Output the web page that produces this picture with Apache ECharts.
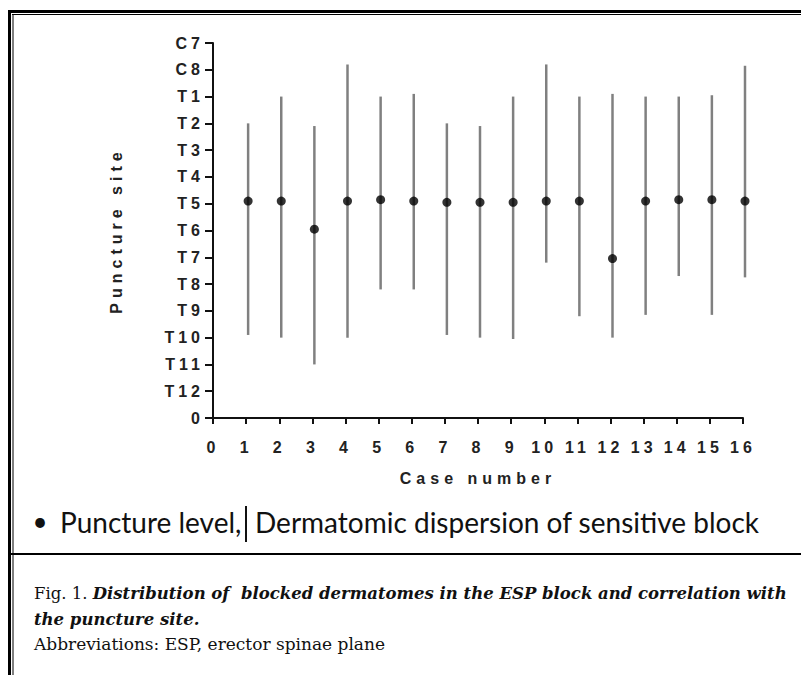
<!DOCTYPE html>
<html><head><meta charset="utf-8">
<script src="https://cdn.jsdelivr.net/npm/echarts@6/dist/echarts.min.js"></script>
<style>
html,body{margin:0;padding:0;background:#fff}
#c{width:801px;height:675px}
#c text[style*="Liberation Sans"]{letter-spacing:4px}
#c text[style*="Arial"]{letter-spacing:5px}
</style></head><body><div id="c"></div>
<script>
// ---- data ----
const caseNumbers = [1,2,3,4,5,6,7,8,9,10,11,12,13,14,15,16];
const levelLabels = ['0','T12','T11','T10','T9','T8','T7','T6','T5','T4','T3','T2','T1','C8','C7'];
const xTickLabels = ['0','1','2','3','4','5','6','7','8','9','10','11','12','13','14','15','16'];
// puncture level (0 = '0', 1 = T12 ... 8 = T5 ... 14 = C7)
const punctureLevel = [8.1,8.1,7.05,8.1,8.15,8.1,8.05,8.05,8.05,8.1,8.1,5.95,8.1,8.15,8.15,8.1];
// upper and lower limits of the blocked dermatomes
const blockUpper = [11,12,10.9,13.2,12,12.1,11,10.9,12,13.2,12,12.1,12,12,12.05,13.15];
const blockLower = [3.1,3,2,3,4.8,4.8,3.1,3,2.95,5.8,3.8,3,3.85,5.3,3.85,5.25];

const legendPoint = 'Puncture level,';
const legendLine = 'Dermatomic dispersion of sensitive block';
const xTitle = 'Case number';
const yTitle = 'Puncture site';

const AX = 'Liberation Sans';
const AXT = 'Arial';
const SERIF = 'DejaVu Serif';
const chart = echarts.init(document.getElementById('c'), null, {renderer:'svg'});

chart.setOption({
  animation:false,
  backgroundColor:'#fff',
  grid:{left:213, top:43, right:58, bottom:257, outerBoundsMode:'none'},
  xAxis:{
    type:'value', min:0, max:16, interval:1,
    name:xTitle, nameLocation:'middle', nameGap:52,
    nameTextStyle:{fontFamily:AXT, fontWeight:'bold', fontSize:16, color:'#222'},
    axisLine:{onZero:false, lineStyle:{color:'#111', width:2}},
    axisTick:{length:6, lineStyle:{color:'#111', width:2}},
    axisLabel:{fontFamily:AX, fontWeight:'bold', fontSize:16, color:'#222', margin:21,
      formatter:(v)=>xTickLabels[Math.round(v)]},
    splitLine:{show:false}
  },
  yAxis:{
    type:'value', min:0, max:14, interval:1,
    name:yTitle, nameLocation:'middle', nameGap:89, nameRotate:90,
    nameTextStyle:{fontFamily:AXT, fontWeight:'bold', fontSize:16, color:'#222'},
    axisLine:{onZero:false, lineStyle:{color:'#111', width:2}},
    axisTick:{length:8, lineStyle:{color:'#111', width:2}},
    axisLabel:{fontFamily:AX, fontWeight:'bold', fontSize:16, color:'#222', margin:9,
      formatter:(v)=>levelLabels[Math.round(v)]},
    splitLine:{show:false}
  },
  series:[
    {
      type:'custom',
      data:caseNumbers.map((c,i)=>[c, blockLower[i], blockUpper[i]]),
      renderItem:(params, api)=>{
        const x = api.value(0);
        const p1 = api.coord([x, api.value(2)]);
        const p2 = api.coord([x, api.value(1)]);
        return {type:'line', shape:{x1:p1[0]+2, y1:p1[1], x2:p2[0]+2, y2:p2[1]},
          style:{stroke:'#808080', lineWidth:2.5}};
      },
      z:2
    },
    {
      type:'scatter',
      data:caseNumbers.map((c,i)=>[c, punctureLevel[i]]),
      symbol:'circle', symbolSize:9, symbolOffset:[2,0],
      itemStyle:{color:'#000'},
      z:3
    }
  ],
  graphic:[
    // frame
    {type:'rect', shape:{x:8, y:10, width:793, height:3}, style:{fill:'#000'}, silent:true},
    {type:'rect', shape:{x:12, y:14, width:789, height:1}, style:{fill:'#000'}, silent:true},
    {type:'rect', shape:{x:8, y:10, width:3, height:665}, style:{fill:'#000'}, silent:true},
    {type:'rect', shape:{x:12.5, y:14, width:1, height:661}, style:{fill:'#000'}, silent:true},
    {type:'rect', shape:{x:8, y:553, width:793, height:2}, style:{fill:'#000'}, silent:true},
    // legend
    {type:'text', x:40, y:521, style:{text:'•', font:'26px Lato', fill:'#111', align:'center', verticalAlign:'middle'}},
    {type:'text', x:60, y:522, style:{text:legendPoint, font:'28px Lato', fill:'#111', verticalAlign:'middle'}},
    {type:'line', shape:{x1:246, y1:506, x2:246, y2:542}, style:{stroke:'#111', lineWidth:2}},
    {type:'text', x:255, y:522, style:{text:legendLine, font:'28px Lato', fill:'#111', verticalAlign:'middle'}},
    // caption
    {type:'text', x:34, y:593, style:{
      text:'{r|Fig. 1. }{b|Distribution of  blocked dermatomes in the ESP block and correlation with}',
      verticalAlign:'middle',
      rich:{
        r:{fontFamily:SERIF, fontSize:16.5, fill:'#111'},
        b:{fontFamily:SERIF, fontSize:16.5, fontStyle:'italic', fontWeight:'bold', fill:'#111'}
      }}},
    {type:'text', x:34, y:619, style:{text:'the puncture site.', font:'italic bold 16.5px "DejaVu Serif"', fill:'#111', verticalAlign:'middle'}},
    {type:'text', x:34, y:644, style:{text:'Abbreviations: ESP, erector spinae plane', font:'17px "DejaVu Serif"', fill:'#111', verticalAlign:'middle'}}
  ]
});
</script></body></html>
